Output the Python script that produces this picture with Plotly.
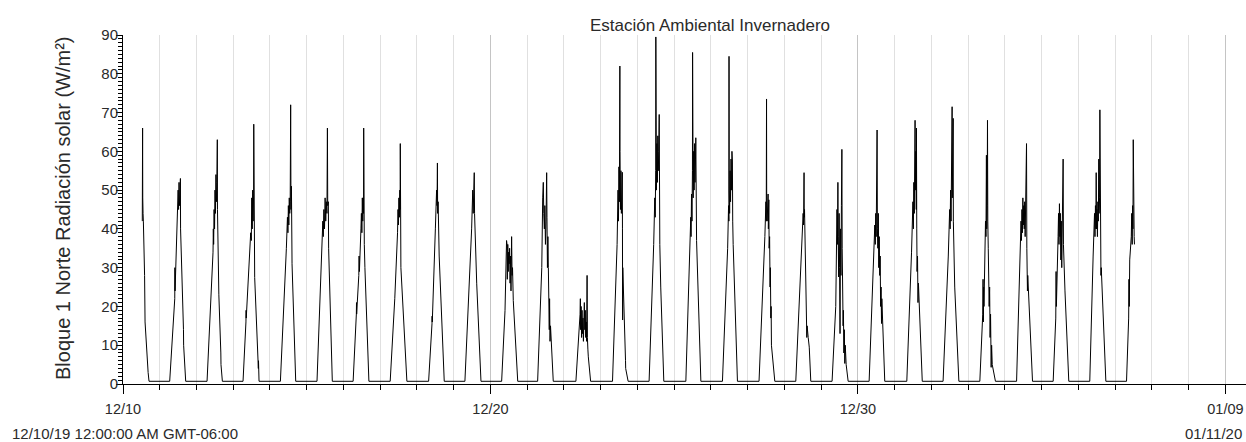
import pandas as pd
import plotly.graph_objects as go

# ---------------- data ----------------
day_dates = [
    "2019-12-10", "2019-12-11", "2019-12-12", "2019-12-13", "2019-12-14",
    "2019-12-15", "2019-12-16", "2019-12-17", "2019-12-18", "2019-12-19",
    "2019-12-20", "2019-12-21", "2019-12-22", "2019-12-23", "2019-12-24",
    "2019-12-25", "2019-12-26", "2019-12-27", "2019-12-28", "2019-12-29",
    "2019-12-30", "2019-12-31", "2020-01-01", "2020-01-02", "2020-01-03",
    "2020-01-04", "2020-01-05", "2020-01-06",
]

# hour of day of each reading, one list per day
day_hours = [
    [12.6, 12.7, 12.8, 12.9, 13.1, 13.3, 14.1, 14.2, 14.3, 14.4, 16.4, 17.0],
    [6.5, 9.8, 9.9, 10.0, 11.3, 11.5, 11.7, 12.0, 12.3, 12.6, 12.9, 13.2, 13.5, 13.6, 14.4, 14.5, 15.5, 15.6, 16.95],
    [6.9, 10.8, 11.0, 11.2, 11.5, 11.8, 12.1, 12.4, 12.7, 13.0, 13.3, 13.6, 13.7, 14.0, 14.5, 14.6, 15.9, 16.0, 16.9],
    [6.4, 8.3, 8.4, 8.5, 11.4, 11.6, 11.8, 12.1, 12.4, 12.7, 13.0, 13.3, 13.4, 13.5, 14.0, 16.4, 16.5, 16.85],
    [6.8, 10.7, 10.9, 11.1, 11.4, 11.7, 12.0, 12.3, 12.6, 12.9, 13.2, 13.5, 13.7, 14.0, 14.4, 16.8],
    [6.7, 10.2, 10.5, 10.8, 11.2, 11.6, 12.0, 12.4, 12.8, 13.2, 13.5, 13.7, 14.1, 14.3, 16.7],
    [6.3, 8.4, 8.5, 8.6, 10.0, 10.2, 10.4, 11.4, 11.7, 12.0, 12.3, 12.6, 12.9, 13.1, 13.2, 13.3, 13.6, 14.0, 16.6],
    [6.5, 9.5, 11.3, 11.6, 11.9, 12.2, 12.5, 12.8, 13.0, 13.1, 13.2, 13.5, 17.4],
    [7.6, 9.8, 9.9, 10.0, 12.0, 12.2, 12.5, 12.8, 13.1, 13.35, 13.5, 13.8, 14.0, 14.5, 17.8],
    [7.3, 11.7, 11.9, 12.1, 12.4, 12.7, 13.0, 13.4, 13.6, 13.9, 14.9, 15.0, 17.8],
    [7.3, 9.5, 10.1, 10.3, 10.5, 10.8, 11.0, 11.3, 11.6, 11.9, 12.2, 12.5, 12.8, 13.1, 13.4, 13.8, 14.1, 14.4, 14.9, 17.8],
    [6.8, 9.5, 10.1, 10.5, 10.8, 11.2, 11.5, 11.9, 12.3, 12.7, 12.9, 13.2, 13.5, 13.8, 14.0, 14.2, 14.4, 14.6, 14.9, 15.2, 17.0],
    [7.8, 10.5, 10.7, 10.9, 11.2, 11.5, 11.8, 12.1, 12.4, 12.7, 13.0, 13.3, 13.6, 13.9, 14.2, 14.5, 14.8, 15.1, 15.3, 15.6, 15.9, 17.4],
    [7.7, 10.7, 10.9, 11.1, 11.3, 11.6, 11.9, 12.2, 12.5, 12.6, 12.9, 13.2, 13.5, 13.8, 14.1, 14.2, 14.3, 14.4, 16.2, 16.3, 17.9],
    [7.6, 10.6, 10.8, 11.0, 11.3, 11.6, 11.9, 12.0, 12.1, 12.4, 12.7, 13.0, 13.3, 13.6, 13.9, 14.2, 14.4, 14.6, 15.2, 17.2],
    [7.6, 10.6, 10.8, 11.0, 11.3, 11.6, 11.9, 12.0, 12.1, 12.4, 12.7, 13.0, 13.3, 13.6, 13.9, 14.1, 14.3, 14.6, 17.4],
    [7.5, 10.9, 11.1, 11.3, 11.5, 11.7, 11.8, 11.9, 12.2, 12.5, 12.8, 13.1, 13.4, 13.7, 14.0, 14.2, 14.5, 17.3],
    [7.4, 11.2, 11.4, 11.6, 11.9, 12.1, 12.3, 12.4, 12.7, 13.0, 13.3, 13.5, 13.8, 14.0, 14.3, 14.6, 14.8, 15.1, 15.3, 15.5, 17.7],
    [7.4, 12.0, 12.2, 12.5, 12.8, 12.9, 13.1, 13.4, 13.6, 13.9, 14.1, 14.3, 14.6, 14.8, 15.5, 16.2, 17.2],
    [7.1, 9.5, 10.0, 10.3, 10.6, 10.9, 11.1, 11.4, 11.7, 12.0, 12.3, 12.6, 12.9, 13.2, 13.5, 13.7, 14.0, 14.3, 14.5, 14.8, 15.1, 15.4, 15.7, 16.3, 17.6],
    [7.3, 9.9, 11.0, 11.3, 11.6, 11.9, 12.1, 12.3, 12.5, 12.7, 13.0, 13.3, 13.6, 13.9, 14.2, 14.5, 14.8, 15.1, 15.4, 15.6, 17.5],
    [7.9, 11.0, 11.3, 11.6, 11.9, 12.2, 12.5, 12.8, 13.1, 13.3, 13.5, 13.8, 14.1, 14.2, 14.4, 14.6, 14.9, 15.2, 15.5, 18.0],
    [7.6, 11.0, 11.3, 11.6, 11.9, 12.2, 12.5, 12.8, 13.1, 13.5, 13.6, 13.9, 14.2, 14.3, 14.5, 15.0, 15.2, 17.9],
    [7.6, 9.5, 9.7, 9.9, 10.1, 10.3, 10.6, 11.0, 11.3, 11.6, 11.9, 12.1, 12.4, 12.6, 12.8, 13.1, 13.4, 13.7, 14.0, 14.3, 14.6, 15.0, 15.3, 15.7, 17.8],
    [7.6, 10.2, 10.5, 10.8, 11.1, 11.4, 11.7, 12.0, 12.3, 12.6, 12.9, 13.2, 13.5, 13.8, 14.1, 14.3, 14.5, 14.7, 14.9, 18.0],
    [7.5, 9.2, 9.4, 9.6, 10.7, 11.0, 11.3, 11.6, 11.9, 12.2, 12.5, 12.8, 13.1, 13.4, 13.7, 14.0, 14.2, 14.6, 15.2, 17.7],
    [7.4, 9.6, 9.9, 10.2, 10.5, 10.8, 11.1, 11.4, 11.6, 11.8, 12.1, 12.4, 12.7, 13.0, 13.3, 13.5, 13.8, 14.0, 14.2, 14.4, 14.7, 14.9, 17.9],
    [7.4, 8.8, 9.0, 9.2, 9.5, 10.5, 10.8, 11.1, 11.4, 11.6, 11.8, 12.0, 12.2, 12.4, 12.6],
]

# radiation (W/m²) of each reading, one list per day
day_values = [
    [42, 62, 66, 48, 44, 42, 28, 17, 24, 16, 3, 0.7],
    [0.7, 22, 30, 24, 41, 48, 43, 50, 45, 52, 46, 50, 53, 40, 31, 26, 14, 10, 0.7],
    [0.7, 34, 40, 36, 45, 40, 50, 44, 54, 47, 52, 63, 45, 36, 28, 23, 8, 5, 0.7],
    [0.7, 16, 19, 17, 39, 45, 37, 48, 40, 50, 42, 49, 67, 35, 27.5, 4, 6, 0.7],
    [0.7, 35, 40, 37, 43, 39, 46, 41, 48, 44, 47, 72, 45, 51, 31, 0.7],
    [0.7, 36, 42, 38, 45, 40, 48, 42, 47, 44, 66, 46, 47, 35, 0.7],
    [0.7, 18, 21, 18, 28, 33, 29, 40, 44, 39, 48, 42, 48, 44, 66, 47, 36, 30, 0.7],
    [0.7, 22, 39, 45, 41, 48, 43, 50, 45, 62, 40, 30, 0.7],
    [0.7, 15.5, 17.5, 16, 40, 45, 41, 50, 46, 57, 44, 47, 40, 33, 0.7],
    [0.7, 40, 46, 41, 50, 44, 47, 54.5, 44, 40, 30, 26, 0.7],
    [0.7, 19, 35, 30, 37, 36, 27, 36, 29, 34, 31, 35, 26, 33, 24, 38, 28, 30, 21.5, 0.7],
    [0.7, 30, 48, 52, 44, 40, 46, 36, 42, 54.5, 43, 30, 38, 30, 20, 26, 14, 22, 11, 15, 0.7],
    [0.7, 18, 22, 14, 20, 12, 19, 13, 17, 11, 18, 21, 14, 19, 12, 16, 11, 28, 12, 9, 7, 0.7],
    [0.7, 36, 44, 39, 50, 42, 56, 47, 82, 60, 45, 55, 44, 50, 54.6, 40, 16.5, 30, 6, 4, 0.7],
    [0.7, 36, 42, 38, 48, 43, 55, 89.5, 58, 50, 62, 52, 64, 55, 60, 69.5, 45, 36, 25, 0.7],
    [0.7, 36, 43, 38, 49, 42, 55, 85.5, 56, 48, 60, 50, 62, 52, 58, 63.5, 45, 37, 0.7],
    [0.7, 35, 41, 38, 46, 42, 84.5, 50, 44, 55, 47, 58, 50, 60, 57.5, 42, 36, 0.7],
    [0.7, 38, 44, 40, 47, 42, 73.5, 46, 42, 48, 49, 40, 47.5, 35, 38, 25, 30, 17, 20, 10, 0.7],
    [0.7, 40, 44, 41, 54.5, 43, 45, 38, 32, 28, 20, 24, 12, 15, 12, 9.5, 0.7],
    [0.7, 20, 30, 45, 36, 52, 38, 27.6, 44, 30, 13, 40, 28, 46, 60.5, 35, 20, 15, 19, 8, 14, 5.3, 10, 5, 0.7],
    [0.7, 30, 41, 36, 44, 38, 50.5, 42, 65.5, 40, 35, 44, 30, 38, 28, 33, 20, 25, 15.6, 22, 0.7],
    [0.7, 34, 42, 37, 47, 40, 52, 44, 58, 68, 50, 60, 45, 66, 40, 29, 33, 21, 26, 0.7],
    [0.7, 33, 40, 36, 45, 40, 50, 42, 52, 71.5, 48, 55, 68.5, 42, 35, 30, 25, 0.7],
    [0.7, 18, 27, 16, 25, 20, 30, 36, 42, 38, 59, 40, 46, 68, 42, 35, 28, 20, 25, 12, 18, 4.3, 10, 5, 0.7],
    [0.7, 34.5, 42, 37, 45, 39, 48, 41, 46, 40, 47, 38, 44, 48, 62, 35, 30, 24, 28, 0.7],
    [0.7, 17, 29, 20, 38, 44, 36, 46.5, 38, 44, 32, 42, 30, 45, 53.5, 58, 36, 29.5, 24, 0.7],
    [0.7, 33, 40, 36, 44, 38, 46, 40, 54.5, 40, 45, 38, 47, 42, 58, 44, 48, 70.7, 40, 34.5, 28, 30, 0.7],
    [0.7, 17, 27, 20, 32, 38, 44, 36, 46, 40, 63, 44, 50.5, 38, 36],
]

y_tick_values = [0, 10, 20, 30, 40, 50, 60, 70, 80, 90]
x_tick_values = ["2019-12-10", "2019-12-20", "2019-12-30", "2020-01-09"]
x_tick_labels = ["12/10", "12/20", "12/30", "01/09"]

title_text = "Estación Ambiental Invernadero"
y_title_text = "Bloque 1 Norte Radiación solar (W/m²)"
start_text = "12/10/19 12:00:00 AM GMT-06:00"
end_text = "01/11/20"

# ---------------- build series ----------------
times = []
values = []
for d, hrs, vals in zip(day_dates, day_hours, day_values):
    base = pd.Timestamp(d)
    for h, v in zip(hrs, vals):
        times.append(base + pd.Timedelta(hours=h))
        values.append(v)

FONT = "Liberation Sans, Arial, sans-serif"
TXT = "#2a2a2a"

fig = go.Figure()
fig.add_trace(go.Scatter(
    x=times, y=values, mode="lines",
    line=dict(color="black", width=1),
    hoverinfo="x+y", showlegend=False,
))

W, H = 1246, 442
L, R, T, B = 123, 0, 35, 58
pw, ph = W - L - R, H - T - B

def px_x(x):
    return (x - L) / pw

def px_y(y):
    return (H - B - y) / ph

fig.update_layout(
    width=W, height=H,
    margin=dict(l=L, r=R, t=T, b=B, pad=0, autoexpand=False),
    paper_bgcolor="white", plot_bgcolor="white",
    font=dict(family=FONT, size=14.5, color=TXT),
    xaxis=dict(
        type="date",
        range=["2019-12-10 00:00", "2020-01-09 13:26"],
        tickmode="array", tickvals=x_tick_values, ticktext=x_tick_labels,
        ticks="outside", ticklen=9, tickcolor="black", tickwidth=1,
        ticklabelstandoff=3, ticklabeloverflow="allow",
        showgrid=True, gridcolor="#c4c4c4", gridwidth=1,
        showline=True, linecolor="black", linewidth=1,
        zeroline=False, automargin=False,
        tickfont=dict(family=FONT, size=14.5, color=TXT),
        minor=dict(dtick=86400000, tick0="2019-12-10", ticks="outside", ticklen=5,
                   tickcolor="black", tickwidth=1,
                   showgrid=True, gridcolor="#e0e0e0", gridwidth=1),
        fixedrange=True,
    ),
    yaxis=dict(
        range=[0, 90],
        tickmode="array", tickvals=y_tick_values,
        ticks="outside", ticklen=6, tickcolor="black", tickwidth=1,
        ticklabelstandoff=-5,
        showgrid=False, zeroline=False, automargin=False,
        showline=True, linecolor="black", linewidth=1,
        tickfont=dict(family=FONT, size=15, color=TXT),
        minor=dict(dtick=1, ticks="outside", ticklen=4, tickcolor="black", tickwidth=1, showgrid=False),
        fixedrange=True,
    ),
    annotations=[
        dict(text=title_text, xref="paper", yref="paper",
             x=px_x(710), y=px_y(25), xanchor="center", yanchor="middle",
             showarrow=False, font=dict(family=FONT, size=17, color=TXT)),
        dict(text=y_title_text, xref="paper", yref="paper",
             x=px_x(63), y=px_y(209), xanchor="center", yanchor="middle",
             textangle=-90, showarrow=False,
             font=dict(family=FONT, size=20, color=TXT)),
        dict(text=start_text, xref="paper", yref="paper",
             x=px_x(10), y=px_y(433), xanchor="left", yanchor="middle",
             showarrow=False, font=dict(family=FONT, size=15, color=TXT)),
        dict(text=end_text, xref="paper", yref="paper",
             x=px_x(1244), y=px_y(433), xanchor="right", yanchor="middle",
             showarrow=False, font=dict(family=FONT, size=15, color=TXT)),
    ],
)

fig.write_html(
    "out.html",
    config={"displayModeBar": False},
    post_script="document.body.style.margin='0';document.body.style.padding='0';",
)
